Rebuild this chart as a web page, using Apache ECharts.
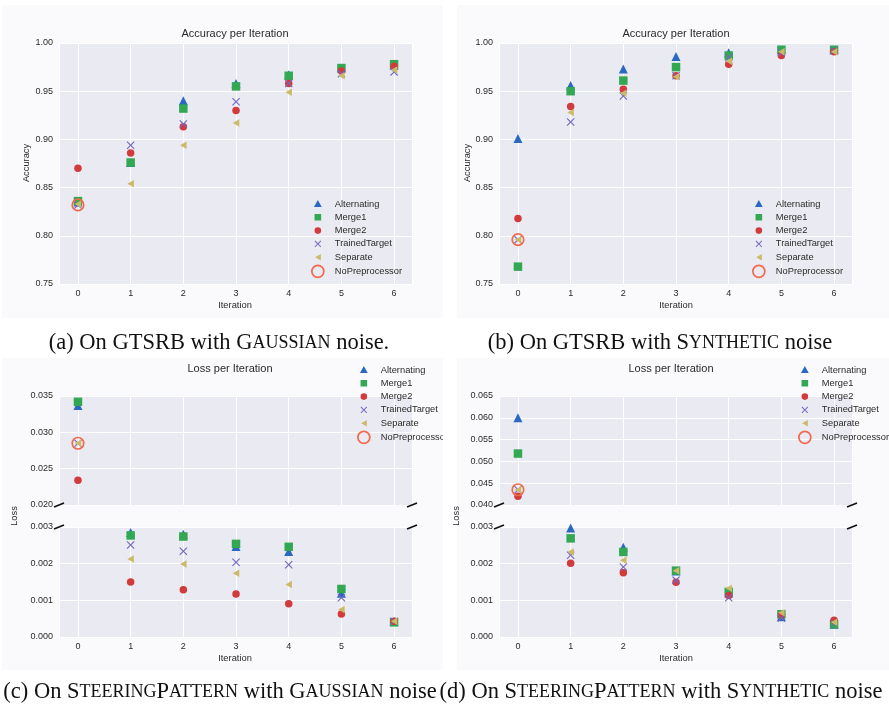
<!DOCTYPE html>
<html>
<head>
<meta charset="utf-8">
<script src="https://cdn.jsdelivr.net/npm/echarts@6/dist/echarts.min.js"></script>
<style>html,body{margin:0;padding:0;background:#fff}#c{width:889px;height:708px}</style>
</head>
<body>
<div id="c"></div>
<script>
// ---------------- DATA ----------------
const iterations = [0, 1, 2, 3, 4, 5, 6];
const seriesNames = ['Alternating', 'Merge1', 'Merge2', 'TrainedTarget', 'Separate', 'NoPreprocessor'];

// (a) GTSRB, Gaussian noise - accuracy
const alt_a    = [0.835, 0.876, 0.940, 0.958, 0.967, 0.974, 0.977];
const merge1_a = [0.836, 0.876, 0.932, 0.955, 0.966, 0.974, 0.978];
const merge2_a = [0.870, 0.886, 0.913, 0.930, 0.958, 0.971, 0.976];
const tt_a     = [0.832, 0.894, 0.916, 0.939, 0.958, 0.968, 0.970];
const sep_a    = [0.833, 0.854, 0.894, 0.917, 0.949, 0.966, 0.972];
const nopre_a  = [0.832];

// (b) GTSRB, synthetic noise - accuracy
const alt_b    = [0.901, 0.956, 0.973, 0.986, 0.990, 0.993, 0.993];
const merge1_b = [0.768, 0.950, 0.961, 0.975, 0.987, 0.993, 0.993];
const merge2_b = [0.818, 0.934, 0.952, 0.966, 0.978, 0.987, 0.991];
const tt_b     = [0.796, 0.918, 0.945, 0.966, 0.985, 0.990, 0.992];
const sep_b    = [0.796, 0.928, 0.948, 0.965, 0.981, 0.991, 0.991];
const nopre_b  = [0.796];

// (c) SteeringPattern, Gaussian noise - loss
const alt_c    = [0.0337, 0.00285, 0.00280, 0.00247, 0.00233, 0.00119, 0.00042];
const merge1_c = [0.0342, 0.00277, 0.00274, 0.00254, 0.00246, 0.00131, 0.00040];
const merge2_c = [0.0234, 0.00150, 0.00129, 0.00117, 0.00091, 0.00063, 0.00043];
const tt_c     = [0.0285, 0.00251, 0.00234, 0.00204, 0.00197, 0.00107, 0.00043];
const sep_c    = [0.0285, 0.00213, 0.00199, 0.00174, 0.00143, 0.00075, 0.00043];
const nopre_c  = [0.0285];

// (d) SteeringPattern, synthetic noise - loss
const alt_d    = [0.0600, 0.00297, 0.00245, 0.00180, 0.00120, 0.00055, 0.00035];
const merge1_d = [0.0518, 0.00269, 0.00232, 0.00181, 0.00123, 0.00062, 0.00035];
const merge2_d = [0.0420, 0.00201, 0.00175, 0.00149, 0.00113, 0.00060, 0.00046];
const tt_d     = [0.0435, 0.00223, 0.00191, 0.00155, 0.00107, 0.00052, 0.00038];
const sep_d    = [0.0435, 0.00232, 0.00209, 0.00181, 0.00133, 0.00066, 0.00040];
const nopre_d  = [0.0435];

// axis tick ranges
const accTicks = [0.75, 0.80, 0.85, 0.90, 0.95, 1.00];
const lossTopC = [0.020, 0.025, 0.030, 0.035];
const lossTopD = [0.040, 0.045, 0.050, 0.055, 0.060, 0.065];
const lossBottom = [0.000, 0.001, 0.002, 0.003];

// ---------------- STYLE ----------------
const COL = {alt:'#2a68c2', m1:'#33a852', m2:'#d13b3b', tt:'#7467c2', sep:'#cbbb68', np:'#f2694e'};
const FONT = 'Liberation Sans';
const TXT = '#2a2a2a';
const XSYM = 'path://M0,1L1,0L5,4L9,0L10,1L6,5L10,9L9,10L5,6L1,10L0,9L4,5Z';
const LTRI = 'path://M10,0L10,10L0,5Z';
const PAD = 'path://M0,0L0.01,0L0,0.01Z M20,20L19.99,20L20,19.99Z ';
const legendIcons = {
  Alternating: PAD + 'M10,3.5L16.5,15L3.5,15Z',
  Merge1: PAD + 'M4.5,4.5L15.5,4.5L15.5,15.5L4.5,15.5Z',
  Merge2: PAD + 'M4.5,10A5.5,5.5 0 1,0 15.5,10A5.5,5.5 0 1,0 4.5,10Z',
  TrainedTarget: PAD + 'M4.5,5.7L5.7,4.5L10,8.8L14.3,4.5L15.5,5.7L11.2,10L15.5,14.3L14.3,15.5L10,11.2L5.7,15.5L4.5,14.3L8.8,10Z',
  Separate: PAD + 'M15,4.5L15,15.5L5.5,10Z',
  NoPreprocessor: 'circle'
};
const symStyle = {
  Alternating:   {symbol:'triangle', size:9, style:{color:COL.alt}},
  Merge1:        {symbol:'rect', size:8.5, style:{color:COL.m1}},
  Merge2:        {symbol:'circle', size:7.5, style:{color:COL.m2}},
  TrainedTarget: {symbol:XSYM, size:8, style:{color:COL.tt}},
  Separate:      {symbol:LTRI, size:[6.5,7.5], style:{color:COL.sep}},
  NoPreprocessor:{symbol:'circle', size:11.5, style:{color:'rgba(0,0,0,0)', borderColor:COL.np, borderWidth:1.7}}
};

const panels = [
  {vals:[alt_a, merge1_a, merge2_a, tt_a, sep_a, nopre_a]},
  {vals:[alt_b, merge1_b, merge2_b, tt_b, sep_b, nopre_b]},
  {vals:[alt_c, merge1_c, merge2_c, tt_c, sep_c, nopre_c]},
  {vals:[alt_d, merge1_d, merge2_d, tt_d, sep_d, nopre_d]}
];

// grids: a, b, c-top, c-bottom, d-top, d-bottom
const grids = [
  {left:59, top:43, width:353, height:241},
  {left:499, top:43, width:353, height:241},
  {left:59, top:396, width:353, height:109},
  {left:59, top:527, width:353, height:110},
  {left:499, top:396, width:353, height:109},
  {left:499, top:527, width:353, height:110}
].map(g => Object.assign({show:true, backgroundColor:'#eaeaf2', borderWidth:0, containLabel:false}, g));

function xAx(gi, showLabels){
  return {type:'value', gridIndex:gi, min:-0.36, max:6.34, splitNumber:7,
    axisLine:{show:false}, axisTick:{show:false},
    splitLine:{show:true, lineStyle:{color:'#ffffff', width:1}},
    axisLabel:{show:showLabels, showMinLabel:false, showMaxLabel:false, margin:5,
      fontSize:9, fontFamily:FONT, color:TXT,
      formatter: v => (Math.abs(v - Math.round(v)) < 1e-6 ? String(Math.round(v)) : '')}};
}
function yAx(gi, ticks, dec){
  return {type:'value', gridIndex:gi, min:ticks[0], max:ticks[ticks.length-1],
    interval: +(ticks[1]-ticks[0]).toFixed(6),
    axisLine:{show:false}, axisTick:{show:false},
    splitLine:{show:true, lineStyle:{color:'#ffffff', width:1}},
    axisLabel:{margin:6, fontSize:9, fontFamily:FONT, color:TXT, formatter: v => v.toFixed(dec)}};
}

const xAxis = [xAx(0,true), xAx(1,true), xAx(2,false), xAx(3,true), xAx(4,false), xAx(5,true)];
const yAxis = [yAx(0,accTicks,2), yAx(1,accTicks,2), yAx(2,lossTopC,3), yAx(3,lossBottom,3), yAx(4,lossTopD,3), yAx(5,lossBottom,3)];

const series = [];
function addSeries(panel, gi, lo, hi){
  panel.vals.forEach((vals, k) => {
    const name = seriesNames[k];
    const s = symStyle[name];
    const data = [];
    vals.forEach((v, i) => { if (v != null && v >= lo - 1e-9 && v <= hi + 1e-9) data.push([iterations[i], v]); });
    series.push({type:'scatter', name, xAxisIndex:gi, yAxisIndex:gi, symbol:s.symbol, symbolSize:s.size,
      itemStyle:Object.assign({opacity:1}, s.style), data, z:2+k, emphasis:{disabled:true}, animation:false});
  });
}
addSeries(panels[0], 0, accTicks[0], accTicks[accTicks.length-1]);
addSeries(panels[1], 1, accTicks[0], accTicks[accTicks.length-1]);
addSeries(panels[2], 2, lossTopC[0], lossTopC[lossTopC.length-1]);
addSeries(panels[2], 3, lossBottom[0], lossBottom[lossBottom.length-1]);
addSeries(panels[3], 4, lossTopD[0], lossTopD[lossTopD.length-1]);
addSeries(panels[3], 5, lossBottom[0], lossBottom[lossBottom.length-1]);

function mkLegend(left, top){
  return {orient:'vertical', left, top, itemWidth:12, itemHeight:12, itemGap:1.3, selectedMode:false,
    padding:0,
    textStyle:{fontSize:9.3, fontFamily:FONT, color:TXT, padding:[0,0,0,6]},
    data: seriesNames.map(n => {
      const d = {name:n, icon:legendIcons[n]};
      if (n === 'NoPreprocessor') d.itemStyle = {color:'rgba(0,0,0,0)', borderColor:COL.np, borderWidth:1.7};
      return d;
    })};
}
const legend = [mkLegend(311, 198), mkLegend(752, 198), mkLegend(357, 364), mkLegend(798, 364)];

// ---------------- DECORATION ----------------
const g = [];
const W = '#ffffff';
// white gaps between panel images
g.push({type:'rect', shape:{x:0, y:0, width:889, height:5}, style:{fill:W}, z:50, silent:true});
g.push({type:'rect', shape:{x:0, y:0, width:2, height:708}, style:{fill:W}, z:50, silent:true});
g.push({type:'rect', shape:{x:443, y:0, width:14, height:708}, style:{fill:W}, z:50, silent:true});
g.push({type:'rect', shape:{x:0, y:318, width:889, height:40}, style:{fill:W}, z:50, silent:true});
g.push({type:'rect', shape:{x:0, y:670, width:889, height:38}, style:{fill:W}, z:50, silent:true});

function txt(x, y, text, size, rot){
  return {type:'text', x, y, rotation:rot||0, z:60, silent:true,
    style:{text, fontSize:size, fontFamily:FONT, fill:TXT, align:'center', verticalAlign:'middle'}};
}
g.push(txt(235, 34, 'Accuracy per Iteration', 11));
g.push(txt(676, 34, 'Accuracy per Iteration', 11));
g.push(txt(230, 369, 'Loss per Iteration', 11));
g.push(txt(671, 369, 'Loss per Iteration', 11));
g.push(txt(235, 305, 'Iteration', 9.3));
g.push(txt(676, 305, 'Iteration', 9.3));
g.push(txt(235, 658, 'Iteration', 9.3));
g.push(txt(676, 658, 'Iteration', 9.3));
g.push(txt(26, 163, 'Accuracy', 9.3, Math.PI/2));
g.push(txt(467, 163, 'Accuracy', 9.3, Math.PI/2));
g.push(txt(14, 516, 'Loss', 9.3, Math.PI/2));
g.push(txt(456, 516, 'Loss', 9.3, Math.PI/2));

// broken-axis marks
function brk(x, y){
  return {type:'line', shape:{x1:x-5, y1:y+2, x2:x+5, y2:y-2}, style:{stroke:'#111', lineWidth:1.6}, z:55, silent:true};
}
[[2,3],[4,5]].forEach(([ti, bi]) => {
  const t = grids[ti], b = grids[bi];
  g.push(brk(t.left, t.top + t.height)); g.push(brk(t.left + t.width, t.top + t.height));
  g.push(brk(b.left, b.top)); g.push(brk(b.left + b.width, b.top));
});

// captions (small caps via rich text)
const SERIF = 'Liberation Serif';
const rich = {n:{fontSize:22.5, fontFamily:SERIF, fill:'#111', color:'#111'}, s:{fontSize:18, fontFamily:SERIF, fill:'#111', color:'#111'}};
function cap(x, y, text){
  return {type:'text', x, y, z:60, silent:true, style:{text, rich, align:'center', verticalAlign:'middle', fill:'#111', fontSize:22.5, fontFamily:SERIF}};
}
g.push(cap(219, 343, '{n|(a) On GTSRB with G}{s|AUSSIAN}{n| noise.}'));
g.push(cap(660, 343, '{n|(b) On GTSRB with S}{s|YNTHETIC}{n| noise}'));
g.push(cap(220, 692, '{n|(c) On S}{s|TEERING}{n|P}{s|ATTERN}{n| with G}{s|AUSSIAN}{n| noise}'));
g.push(cap(661, 692, '{n|(d) On S}{s|TEERING}{n|P}{s|ATTERN}{n| with S}{s|YNTHETIC}{n| noise}'));

const chart = echarts.init(document.getElementById('c'), null, {renderer:'canvas'});
chart.setOption({
  backgroundColor:'#fafafc',
  animation:false,
  grid: grids,
  xAxis, yAxis, series, legend,
  graphic: {elements: g}
});
</script>
</body>
</html>
